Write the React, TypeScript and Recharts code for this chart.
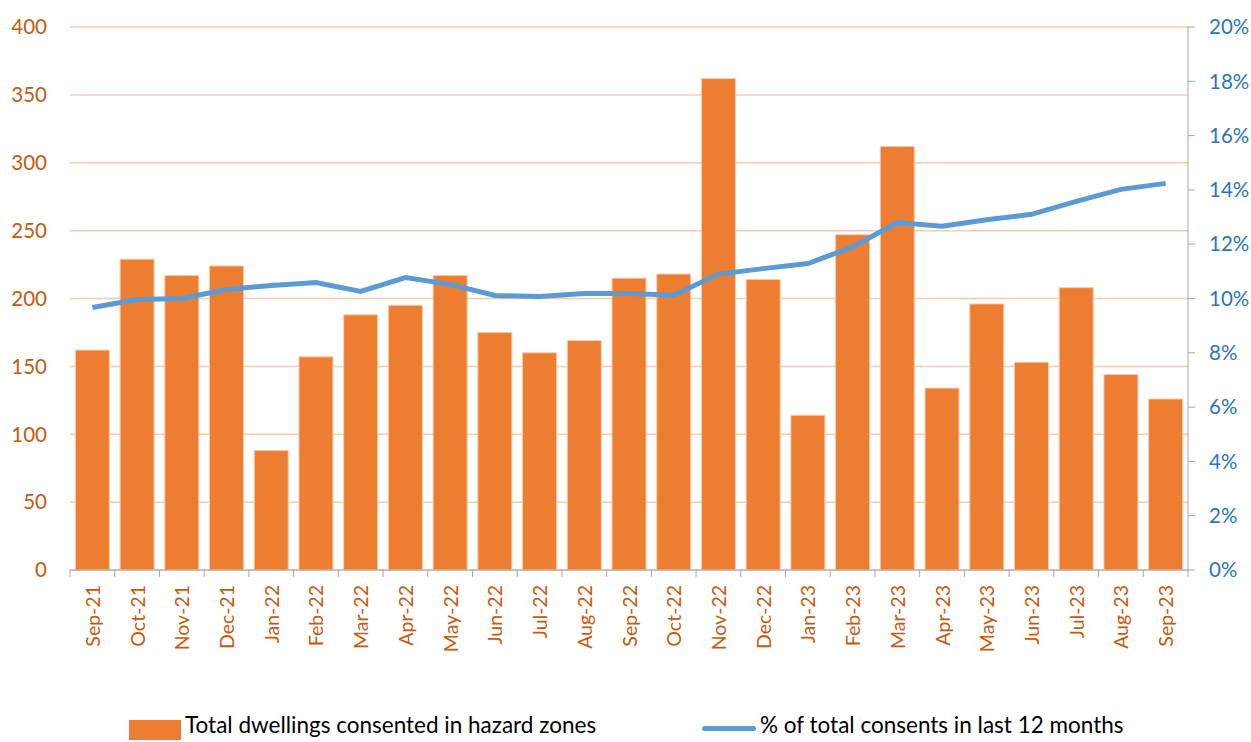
import React from 'react';
import {
  ComposedChart,
  Bar,
  Line,
  XAxis,
  YAxis,
  CartesianGrid,
} from 'recharts';

const months = [
  'Sep-21', 'Oct-21', 'Nov-21', 'Dec-21', 'Jan-22', 'Feb-22', 'Mar-22', 'Apr-22', 'May-22',
  'Jun-22', 'Jul-22', 'Aug-22', 'Sep-22', 'Oct-22', 'Nov-22', 'Dec-22', 'Jan-23', 'Feb-23',
  'Mar-23', 'Apr-23', 'May-23', 'Jun-23', 'Jul-23', 'Aug-23', 'Sep-23',
];
const dwellings = [
  162, 229, 217, 224, 88, 157, 188, 195, 217, 175, 160, 169, 215, 218, 362, 214, 114, 247,
  312, 134, 196, 153, 208, 144, 126,
];
const sharePct = [
  9.67, 9.96, 10.0, 10.33, 10.48, 10.59, 10.26, 10.77, 10.52, 10.11, 10.07, 10.18, 10.18,
  10.12, 10.9, 11.1, 11.29, 11.9, 12.8, 12.66, 12.9, 13.1, 13.58, 14.02, 14.24,
];
const leftTicks = [0, 50, 100, 150, 200, 250, 300, 350, 400];
const rightTicks = [0, 2, 4, 6, 8, 10, 12, 14, 16, 18, 20];

const chartData = months.map((m, i) => ({
  month: m,
  dwellings: dwellings[i],
  share: sharePct[i],
}));

const W = 1251;
const H = 742;
const LEFT_W = 70;
const RIGHT_W = 63;
const BAND = (W - LEFT_W - RIGHT_W) / months.length;
const FONT = 'Lato, "Open Sans", sans-serif';

function MonthTick(props: any) {
  const { x, y, payload } = props;
  const idx = months.indexOf(payload.value);
  return (
    <g>
      <line x1={x - BAND / 2} x2={x - BAND / 2} y1={y} y2={y + 7} stroke="#A6A6A6" />
      {idx === months.length - 1 && (
        <line x1={x + BAND / 2} x2={x + BAND / 2} y1={y} y2={y + 7} stroke="#A6A6A6" />
      )}
      <text
        transform={`translate(${x},${y + 15}) rotate(-90)`}
        textAnchor="end"
        dominantBaseline="central"
        fill="#C55A11"
        fontSize={19.5}
        fontFamily={FONT}
      >
        {payload.value}
      </text>
    </g>
  );
}

export default function App() {
  return (
    <div style={{ position: 'absolute', left: 0, top: 0, width: W, height: H, background: '#fff', fontFamily: FONT }}>
      <ComposedChart
        width={W}
        height={H}
        data={chartData}
        margin={{ top: 27, right: 0, bottom: 0, left: 0 }}
        barCategoryGap="12%"
      >
        <CartesianGrid vertical={false} stroke="#F8CBAD" strokeWidth={1.5} yAxisId="left" />
        <XAxis
          dataKey="month"
          height={172}
          interval={0}
          tickSize={0}
          tickMargin={0}
          tickLine={false}
          axisLine={{ stroke: '#A6A6A6' }}
          tick={<MonthTick />}
        />
        <YAxis
          yAxisId="left"
          orientation="left"
          width={LEFT_W}
          domain={[0, 400]}
          ticks={leftTicks}
          axisLine={false}
          tickLine={false}
          tickSize={0}
          tickMargin={23}
          tick={{ fill: '#C55A11', fontSize: 20.5, fontFamily: FONT }}
        />
        <YAxis
          yAxisId="right"
          orientation="right"
          width={RIGHT_W}
          domain={[0, 20]}
          ticks={rightTicks}
          axisLine={{ stroke: '#A6A6A6' }}
          tickLine={{ stroke: '#A6A6A6' }}
          tickSize={7}
          tickMargin={14}
          tickFormatter={(v) => `${v}%`}
          tick={{ fill: '#2E75B6', fontSize: 20.5, fontFamily: FONT, textAnchor: 'start' }}
        />
        <Bar
          yAxisId="left"
          dataKey="dwellings"
          fill="#ED7D31"
          stroke="#F8CBAD"
          strokeWidth={1}
          isAnimationActive={false}
        />
        <Line
          yAxisId="right"
          dataKey="share"
          type="linear"
          stroke="#5B9BD5"
          strokeWidth={5}
          dot={false}
          activeDot={false}
          isAnimationActive={false}
        />
      </ComposedChart>
      <div
        style={{
          position: 'absolute',
          top: 711,
          left: 0,
          width: W,
          height: 28,
          fontSize: 22.5,
          lineHeight: '28px',
          color: '#000',
          whiteSpace: 'nowrap',
        }}
      >
        <div style={{ position: 'absolute', left: 129, top: 9, width: 52, height: 20, background: '#ED7D31' }} />
        <span style={{ position: 'absolute', left: 185, top: 0 }}>Total dwellings consented in hazard zones</span>
        <div style={{ position: 'absolute', left: 702, top: 15, width: 54, height: 5, background: '#5B9BD5', borderRadius: 3 }} />
        <span style={{ position: 'absolute', left: 760, top: 0 }}>% of total consents in last 12 months</span>
      </div>
    </div>
  );
}
